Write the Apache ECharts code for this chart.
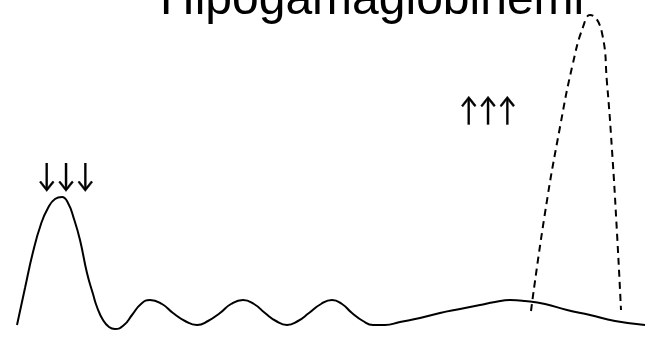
<!DOCTYPE html>
<html><head><meta charset="utf-8">
<script src="https://cdn.jsdelivr.net/npm/echarts@6/dist/echarts.min.js"></script>
<style>html,body{margin:0;padding:0;background:#fff}#c{width:654px;height:339px}</style>
</head><body><div id="c"></div>
<script>
const titleText = 'Hipogamaglobinemi';
const lowLabel = '↓↓↓';
const highLabel = '↑↑↑';
// normal/solid profile: [position, height]
const solidX = [17,25,33,41,48,55,62,68,74,80,87,93,97,103,109,115,124,132,141,150,162,173,185,197,208,220,231,243,254,265,276,287,298,309,321,332,342,352,363,373,385,400,420,440,460,480,495,510,525,545,567,590,615,645];
const solidY = [14,51,87,115,131,140,142,136,120,99,66,45,32,19,12,10,14,24,35,39,35,26,18,14,18,26,35,39,35,26,18,14,18,26,35,39,35,26,18,14,14,17,21,26,30,34,37,39,38,35,29,24,18,14];
// dashed (elevated) profile
const dashX = [531,545,560,573,583,590,602,607,612,617,621];
const dashY = [28,126,212,276,312,324,306,256,189,106,29];

const chart = echarts.init(document.getElementById('c'), null, {renderer:'canvas'});
chart.setOption({
  animation:false,
  backgroundColor:'#fff',
  title:{text:titleText,left:155,top:-28,textStyle:{fontFamily:'Liberation Sans',fontSize:48,fontWeight:'normal',color:'#000'}},
  grid:{left:0,right:0,top:0,bottom:0},
  xAxis:{type:'value',min:0,max:654,show:false},
  yAxis:{type:'value',min:0,max:339,show:false},
  graphic:[
    {type:'text',x:37,y:160,scaleX:0.8,style:{text:lowLabel,font:'32px Lato',fill:'#000',stroke:'#000',lineWidth:0.4}},
    {type:'text',x:459,y:95,scaleX:0.8,style:{text:highLabel,font:'32px Lato',fill:'#000',stroke:'#000',lineWidth:0.4}}
  ],
  series:[
    {type:'line',data:solidX.map((x,i)=>[x,solidY[i]]),smooth:0.5,showSymbol:false,lineStyle:{color:'#000',width:2}},
    {type:'line',data:dashX.map((x,i)=>[x,dashY[i]]),smooth:0.5,showSymbol:false,lineStyle:{color:'#000',width:2,type:[7,5]}}
  ]
});
</script></body></html>
